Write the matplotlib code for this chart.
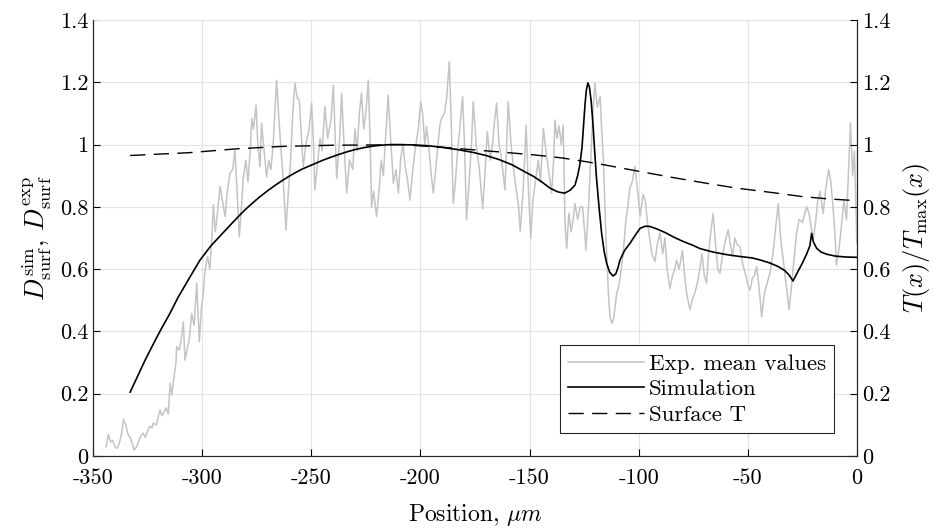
import numpy as np
import matplotlib
matplotlib.use("Agg")
import matplotlib.pyplot as plt
from matplotlib.ticker import FuncFormatter

plt.rcParams["font.family"] = "cmr10"
plt.rcParams["mathtext.fontset"] = "cm"
plt.rcParams["axes.unicode_minus"] = False

# experimental mean values (gray, noisy)
exp_pts = [
    (-344, 0.03), (-343, 0.07), (-342, 0.045), (-341, 0.05), (-340, 0.03), (-339, 0.025),
    (-338, 0.04), (-337, 0.07), (-336, 0.118), (-335, 0.10), (-334, 0.07), (-333, 0.06),
    (-332, 0.04), (-331.2, 0.019), (-330, 0.03), (-329, 0.05), (-328, 0.065), (-327, 0.073),
    (-326, 0.06), (-325, 0.08), (-324, 0.095), (-323, 0.09), (-322.5, 0.105), (-321, 0.10),
    (-320, 0.13), (-319.3, 0.148), (-318.5, 0.13), (-317.5, 0.14), (-316.5, 0.155),
    (-315.5, 0.135), (-314.7, 0.234), (-313.9, 0.196), (-313, 0.25), (-312, 0.30),
    (-311.7, 0.351), (-310.5, 0.34), (-309.5, 0.38), (-308.6, 0.431), (-307.9, 0.308),
    (-307, 0.34), (-306, 0.37), (-304.8, 0.458), (-303.7, 0.42), (-302.5, 0.555),
    (-301.3, 0.367), (-300.3, 0.48), (-299.5, 0.52), (-298.7, 0.597), (-297.5, 0.64),
    (-296.5, 0.60), (-295.6, 0.694), (-294.9, 0.806), (-294, 0.72), (-293, 0.78),
    (-291.8, 0.866), (-290.5, 0.81), (-289.5, 0.769), (-288.5, 0.85), (-287.2, 0.909),
    (-286, 0.92), (-285, 0.983), (-284, 0.85), (-283, 0.704), (-282, 0.80), (-281.2, 0.891),
    (-280, 0.95), (-279, 0.88), (-278, 0.98), (-277.3, 1.084), (-276.5, 1.05), (-275.3, 1.127),
    (-274.5, 1.00), (-273.5, 0.929), (-272.8, 1.068), (-271.6, 0.98), (-270.5, 0.897),
    (-269.5, 0.95), (-268.5, 0.92), (-267.5, 1.00), (-265.9, 1.207), (-265, 1.10),
    (-264.3, 1.025), (-263, 0.90), (-261.6, 0.726), (-260.5, 0.85), (-259.5, 0.95),
    (-258.5, 1.10), (-257.5, 1.197), (-256.5, 1.15), (-255.5, 1.143), (-254.5, 1.02),
    (-253.7, 0.929), (-252.5, 1.00), (-251, 1.05), (-249.9, 1.133), (-249, 1.00),
    (-248.4, 0.854), (-247, 0.95), (-246, 1.02), (-245, 0.98), (-243.8, 1.122),
    (-242.5, 1.02), (-241, 1.08), (-239.9, 1.191), (-238.4, 0.891), (-237, 1.02),
    (-236.1, 1.165), (-235, 1.00), (-233.8, 0.844), (-232.5, 0.95), (-231, 0.92),
    (-230, 1.05), (-229, 0.98), (-228, 1.10), (-227, 1.165), (-226, 1.05), (-225, 1.10),
    (-223.9, 1.207), (-223, 1.00), (-222.4, 0.80), (-221.5, 0.85), (-220.1, 0.769),
    (-219, 0.85), (-218, 0.95), (-217, 0.90), (-216, 1.02), (-214.8, 1.159), (-213.5, 1.00),
    (-212.4, 0.876), (-211.2, 0.92), (-210.1, 0.844), (-209, 0.96), (-208, 1.00),
    (-207, 0.93), (-206, 0.89), (-204.8, 0.822), (-203.5, 0.92), (-202.5, 0.98),
    (-201, 1.05), (-199.9, 1.138), (-199, 1.10), (-198, 1.00), (-197.2, 1.058), (-196, 0.98),
    (-195, 0.90), (-194.1, 0.844), (-193, 0.92), (-192, 1.00), (-191, 1.068), (-190, 1.09),
    (-189, 1.10), (-188, 1.15), (-186.8, 1.266), (-186, 1.10), (-185, 0.811), (-184, 0.88),
    (-183, 0.98), (-182, 1.05), (-180.7, 1.154), (-179.8, 1.00), (-178.9, 0.758),
    (-177.5, 0.90), (-176.5, 1.02), (-175.8, 1.138), (-174.5, 1.00), (-173, 0.92),
    (-171.5, 0.795), (-170.5, 0.90), (-169.4, 1.042), (-168, 0.95), (-167, 1.00),
    (-166, 1.08), (-165.1, 1.133), (-164, 1.00), (-163, 0.96), (-162, 0.90), (-161.3, 0.854),
    (-160.5, 1.00), (-159.8, 1.138), (-158.5, 1.00), (-157, 0.90), (-156, 0.85),
    (-155, 0.80), (-154.3, 0.720), (-153, 0.85), (-152.3, 0.95), (-151.6, 1.063),
    (-150.5, 0.85), (-149.5, 0.699), (-148.5, 0.82), (-147, 0.90), (-146, 0.95),
    (-145, 0.88), (-143.7, 1.052), (-142.5, 0.98), (-141, 0.90), (-139.9, 0.844),
    (-139, 0.95), (-138.4, 1.079), (-137.5, 1.02), (-136.5, 1.06), (-135.5, 1.00),
    (-134.6, 1.063), (-133.8, 0.75), (-133, 0.667), (-132, 0.78), (-131, 0.72), (-130, 0.76),
    (-129.2, 0.811), (-128, 0.76), (-126.8, 0.80), (-125.7, 0.800), (-124.8, 0.72),
    (-124.2, 0.661), (-123, 0.80), (-122, 0.95), (-121, 1.10), (-120.1, 1.197),
    (-119, 1.12), (-117.7, 1.154), (-117, 1.05), (-116.2, 0.951), (-115, 0.70),
    (-113.9, 0.522), (-113.2, 0.45), (-112.4, 0.426), (-111.5, 0.44), (-110.1, 0.522),
    (-109, 0.55), (-108, 0.60), (-107.1, 0.651), (-106, 0.75), (-105, 0.80), (-104.1, 0.860),
    (-103, 0.88), (-101.8, 0.929), (-100.5, 0.85), (-99.4, 0.769), (-98, 0.84), (-97, 0.82),
    (-96, 0.75), (-95, 0.70), (-94, 0.65), (-92.6, 0.624), (-91.5, 0.68), (-90.3, 0.716),
    (-89, 0.65), (-88, 0.70), (-87, 0.60), (-85.7, 0.538), (-84.5, 0.58), (-83.5, 0.60),
    (-82.7, 0.629), (-81.5, 0.60), (-80, 0.66), (-79, 0.58), (-78, 0.52), (-76.5, 0.469),
    (-75.5, 0.50), (-74.5, 0.52), (-73.5, 0.544), (-72, 0.60), (-71, 0.65), (-70, 0.58),
    (-68.9, 0.555), (-68, 0.65), (-67, 0.72), (-65.9, 0.779), (-64.8, 0.68), (-63.8, 0.60),
    (-62.8, 0.587), (-61.5, 0.65), (-60, 0.70), (-59, 0.726), (-58, 0.68), (-57, 0.64),
    (-56, 0.70), (-55, 0.68), (-53.6, 0.672), (-52.5, 0.62), (-51, 0.58), (-50, 0.55),
    (-49, 0.533), (-48, 0.57), (-47, 0.58), (-46, 0.608), (-45, 0.55), (-43.7, 0.447),
    (-42.5, 0.52), (-41, 0.56), (-39.9, 0.587), (-38.5, 0.65), (-37.5, 0.72), (-36.1, 0.811),
    (-35, 0.70), (-33.8, 0.629), (-32.5, 0.55), (-31.1, 0.469), (-30, 0.55), (-29, 0.62),
    (-27.7, 0.715), (-26.5, 0.76), (-25, 0.75), (-23.1, 0.800), (-22, 0.78), (-20.1, 0.694),
    (-19, 0.75), (-18, 0.82), (-17, 0.85), (-15.5, 0.779), (-14.5, 0.85), (-13, 0.92),
    (-12, 0.88), (-11, 0.80), (-10, 0.70), (-9.4, 0.613), (-8, 0.68), (-7, 0.75), (-6, 0.82),
    (-4.8, 0.758), (-4, 0.90), (-3, 1.07), (-2, 0.90), (-1.2, 0.98), (-0.5, 0.80), (-0.1, 0.683),
]
exp_x = [p[0] for p in exp_pts]
exp_y = [p[1] for p in exp_pts]

# simulation
sim_x = [-333, -330, -326, -322, -319, -315, -311, -306, -301, -296, -290, -286, -283, -280,
         -277, -274, -270, -266, -263, -260, -257, -254, -249, -245, -242, -238, -234, -230,
         -226, -222, -218, -214, -210, -203, -196, -190, -183, -176,
         -170, -164, -158, -152, -148, -144, -140.6, -137, -134, -131.5, -129.2, -128, -127,
         -126, -125.3, -124.6, -124, -123.3, -122.6, -121.8, -121, -120.2, -119.4, -118.2,
         -117, -115.8, -114.7, -113.3, -111.8, -110.5, -109.5, -108.6, -106.5, -104, -101.5,
         -99.4, -97, -94.8, -92, -88, -84, -80, -75, -71.9, -66, -60, -54, -48, -44.6, -40,
         -36, -33, -31, -29.3, -28, -26.5, -25, -23, -21.6, -20.8, -20, -18.5, -16.5, -13.9,
         -10, -5, 0]
sim_y = [0.205, 0.25, 0.31, 0.365, 0.405, 0.455, 0.51, 0.57, 0.629, 0.675, 0.72, 0.75, 0.772,
         0.793, 0.812, 0.83, 0.852, 0.872, 0.886, 0.899, 0.911, 0.922, 0.937, 0.949, 0.957,
         0.967, 0.976, 0.984, 0.99, 0.995, 0.998, 1.0, 1.0, 0.999, 0.996, 0.991,
         0.984, 0.975, 0.965, 0.952, 0.935, 0.912, 0.897, 0.878, 0.860, 0.848, 0.844, 0.853,
         0.870, 0.90, 0.935, 0.99, 1.06, 1.13, 1.175, 1.198, 1.185, 1.14, 1.07, 0.98, 0.897,
         0.80, 0.715, 0.655, 0.619, 0.59, 0.578, 0.585, 0.605, 0.629, 0.66, 0.683, 0.71, 0.731,
         0.738, 0.737, 0.73, 0.718, 0.703, 0.69, 0.676, 0.666, 0.655, 0.647, 0.641, 0.636,
         0.630, 0.62, 0.608, 0.595, 0.58, 0.562, 0.58, 0.60, 0.62, 0.65, 0.675, 0.715, 0.688,
         0.667, 0.655, 0.648, 0.642, 0.639, 0.638]

# surface temperature (normalised)
surf_x = [-333, -306, -285, -264, -240, -218, -209, -191, -179, -163, -148, -135, -124, -115,
          -112, -99, -85, -70, -55, -40, -25, -12, 0]
surf_y = [0.965, 0.974, 0.986, 0.994, 0.998, 0.999, 1.0, 0.992, 0.985, 0.976, 0.967, 0.957,
          0.945, 0.934, 0.93, 0.913, 0.895, 0.877, 0.86, 0.847, 0.833, 0.825, 0.82]

yticks = [0, 0.2, 0.4, 0.6, 0.8, 1, 1.2, 1.4]
xticks = [-350, -300, -250, -200, -150, -100, -50, 0]

fig = plt.figure(figsize=(9.35, 5.31), dpi=100)
ax = fig.add_axes([0.0995, 0.1412, 0.8171, 0.8211])

fmt = FuncFormatter(lambda v, p: f"{v:g}")

ax.plot(exp_x, exp_y, color="#c4c4c4", lw=1.1, label="Exp. mean values")
ax.plot(sim_x, sim_y, color="black", lw=1.2, label="Simulation")
ax.plot(surf_x, surf_y, color="black", lw=1.0, dashes=(11, 6), label="Surface T")

ax.set_xlim(-350, 0)
ax.set_ylim(0, 1.4)
ax.set_xticks(xticks)
ax.set_yticks(yticks)
ax.xaxis.set_major_formatter(fmt)
ax.yaxis.set_major_formatter(fmt)
ax.grid(True, color="#e3e3e3", lw=0.8)
ax.set_axisbelow(True)
ax.tick_params(direction="in", labelsize=16, length=5, width=0.8, top=False, right=False)
ax.tick_params(axis="x", pad=9)
for s in ax.spines.values():
    s.set_linewidth(0.8)
    s.set_color("#262626")
ax.spines["top"].set_color("#e3e3e3")

ax.set_xlabel(r"Position, $\mu m$", fontsize=17, labelpad=10)
ax.set_ylabel(r"$D_\mathrm{surf}^\mathrm{sim}$, $D_\mathrm{surf}^\mathrm{exp}$", fontsize=19, labelpad=4)

ax2 = ax.twinx()
ax2.set_ylim(0, 1.4)
ax2.set_yticks(yticks)
ax2.yaxis.set_major_formatter(fmt)
ax2.tick_params(direction="in", labelsize=16, length=5, width=0.8)
ax2.set_ylabel(r"$T(x)/T_\mathrm{max}(x)$", fontsize=19, labelpad=8)
for s in ax2.spines.values():
    s.set_linewidth(0.8)
    s.set_color("#262626")
ax2.spines["top"].set_visible(False)

leg = ax.legend(loc="lower right", fontsize=16.5, handlelength=3.35, handletextpad=0.2,
                borderaxespad=1.0, fancybox=False, framealpha=1, edgecolor="#262626",
                labelspacing=0.25, borderpad=0.35)
leg.get_frame().set_linewidth(0.8)

fig.savefig("out.png", dpi=100)
